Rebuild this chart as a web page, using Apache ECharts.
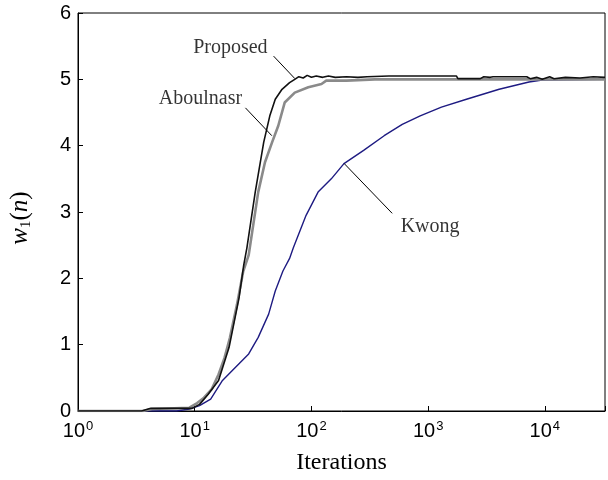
<!DOCTYPE html>
<html>
<head>
<meta charset="utf-8">
<script src="https://cdn.jsdelivr.net/npm/echarts@6/dist/echarts.min.js"></script>
<style>
  html, body { margin: 0; padding: 0; background: #fff; }
  #chart { width: 608px; height: 480px; }
</style>
</head>
<body>
<div id="chart"></div>
<script>
// iterations (n), weight estimate w1(n)
const proposed = [
  [1, 0], [3.5, 0], [4.2, 0.04], [9.5, 0.04], [11, 0.1], [13, 0.25], [16, 0.46],
  [19.7, 0.96], [24, 1.71], [26.3, 2.2], [28, 2.46], [33, 3.3], [39, 4.05],
  [44, 4.45], [49, 4.7], [56, 4.85], [65, 4.95], [72, 5.0], [78, 5.04], [85, 5.02],
  [92, 5.06], [100, 5.03], [110, 5.05], [125, 5.03], [140, 5.05], [160, 5.03],
  [200, 5.04], [250, 5.03], [300, 5.04], [460, 5.05], [1750, 5.05], [1800, 5.01],
  [2800, 5.01], [3000, 5.04], [3400, 5.03], [3600, 5.04], [7000, 5.04], [7500, 5.01],
  [8500, 5.03], [9500, 5.0], [11000, 5.04], [12000, 5.01], [15000, 5.03],
  [20000, 5.02], [26000, 5.04], [32768, 5.03]
];
const aboulnasr = [
  [1, 0], [3.6, 0], [4.3, 0.03], [9, 0.05], [10.5, 0.12], [12, 0.2], [14, 0.33],
  [16, 0.55], [18, 0.8], [20, 1.1], [23, 1.6], [26, 2.1], [29, 2.35], [35, 3.3],
  [40, 3.75], [46, 4.05], [52, 4.3], [59, 4.65], [72, 4.8], [94, 4.88], [122, 4.93],
  [134, 4.98], [200, 4.98], [350, 5.0], [32768, 5.0]
];
const kwong = [
  [1, 0], [7, 0], [9, 0.03], [11, 0.08], [13.7, 0.18], [17.3, 0.46], [21, 0.61],
  [29, 0.86], [35, 1.11], [43, 1.46], [49, 1.81], [57, 2.11], [65, 2.3], [70, 2.46],
  [90, 2.95], [114, 3.3], [148, 3.5], [190, 3.73], [280, 3.93], [420, 4.15],
  [600, 4.32], [855, 4.45], [1300, 4.58], [2130, 4.7], [4060, 4.85], [7310, 4.96],
  [9490, 4.99], [32768, 5.0]
];
const yTicks = [0, 1, 2, 3, 4, 5, 6];

// annotations: [label, text position, leader start, leader end]
const notes = [
  ['Proposed', [20.2, 5.48], [47.4, 5.35], [72.2, 5.01]],
  ['Aboulnasr', [11.2, 4.70], [27.2, 4.57], [45.8, 4.15]],
  ['Kwong', [1040, 2.78], [492, 2.98], [191, 3.73]]
];

const chart = echarts.init(document.getElementById('chart'));

const serif = '"Liberation Serif", "Times New Roman", serif';
const sans = '"Liberation Sans Narrow", "Liberation Sans", Arial, sans-serif';

function curve(name, data, color, width, z) {
  return {
    name: name,
    type: 'line',
    data: data,
    symbol: 'none',
    z: z,
    lineStyle: { color: color, width: width },
    silent: true,
    animation: false
  };
}

const option = {
  animation: false,
  grid: {
    left: 74, right: 3, top: 13, bottom: 66,
    show: true, borderColor: '#000', borderWidth: 1
  },
  xAxis: {
    type: 'log',
    logBase: 10,
    min: 1,
    max: 32768,
    name: 'Iterations',
    nameLocation: 'middle',
    nameGap: 40,
    nameTextStyle: { fontFamily: serif, fontSize: 24, color: '#000' },
    axisLine: { lineStyle: { color: '#000', width: 1 } },
    axisTick: { inside: true, length: 5, lineStyle: { color: '#000' } },
    minorTick: { show: false },
    splitLine: { show: false },
    axisLabel: {
      margin: 9,
      color: '#000',
      formatter: function (v) {
        const e = Math.round(Math.log10(v));
        if (Math.abs(Math.pow(10, e) - v) > 1e-6 * v) return '';
        return '{b|10}{s|' + e + '}';
      },
      rich: {
        b: { fontFamily: sans, fontSize: 20, color: '#000' },
        s: { fontFamily: sans, fontSize: 13, color: '#000', verticalAlign: 'bottom', padding: [0, 0, 10, 1] }
      }
    }
  },
  yAxis: {
    type: 'value',
    min: yTicks[0],
    max: yTicks[yTicks.length - 1],
    interval: 1,
    name: '{i|w}{sub|1}{p|(}{i|n}{p|)}',
    nameLocation: 'middle',
    nameGap: 44,
    nameRotate: 90,
    nameTextStyle: {
      padding: [0, 12, 0, 0],
      rich: {
        i: { fontFamily: serif, fontStyle: 'italic', fontSize: 25, color: '#000' },
        p: { fontFamily: serif, fontSize: 25, color: '#000' },
        sub: { fontFamily: serif, fontSize: 15, color: '#000', verticalAlign: 'top', padding: [12, 0, 0, 0] }
      }
    },
    axisLine: { show: true, lineStyle: { color: '#000', width: 1 } },
    axisTick: { inside: true, length: 5, lineStyle: { color: '#000' } },
    splitLine: { show: false },
    axisLabel: { fontFamily: sans, fontSize: 20, color: '#000', margin: 7 }
  },
  series: [
    curve('Kwong', kwong, '#1e1b82', 1.4, 2),
    curve('Aboulnasr', aboulnasr, '#8a8a8a', 2.6, 3),
    curve('Proposed', proposed, '#111', 1.6, 4),
    {
      name: 'notes',
      type: 'scatter',
      symbolSize: 0,
      z: 5,
      silent: true,
      data: notes.map(function (d) { return { value: d[1], name: d[0] }; }),
      label: {
        show: true,
        position: 'inside',
        formatter: '{b}',
        fontFamily: serif,
        fontSize: 20,
        color: '#000'
      },
      markLine: {
        silent: true,
        symbol: 'none',
        animation: false,
        label: { show: false },
        lineStyle: { color: '#000', width: 1, type: 'solid' },
        data: notes.map(function (d) { return [{ coord: d[2] }, { coord: d[3] }]; })
      }
    }
  ]
};

chart.setOption(option);
</script>
</body>
</html>
